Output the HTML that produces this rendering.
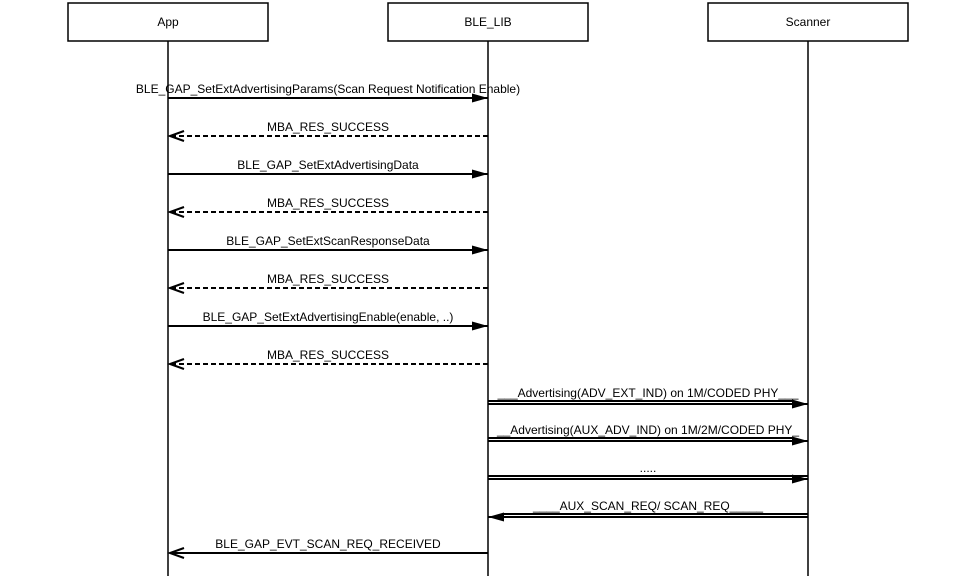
<!DOCTYPE html>
<html><head><meta charset="utf-8"><style>body{margin:0;background:#fff}svg{display:block}</style></head><body>
<svg width="976" height="576" xmlns="http://www.w3.org/2000/svg" font-family="Liberation Sans, sans-serif" font-size="12">
<defs>
<marker id="f" markerWidth="18" markerHeight="12" refX="16" refY="6" orient="auto" markerUnits="userSpaceOnUse"><path d="M0,1.5 L16,6 L0,10.5 Z" fill="#000"/></marker>
</defs>
<g fill="#fff" stroke="#000" stroke-width="1.5">
<rect x="68" y="3" width="200" height="38"/><rect x="388" y="3" width="200" height="38"/><rect x="708" y="3" width="200" height="38"/>
</g>
<g text-anchor="middle" font-size="12">
<text x="168" y="26">App</text><text x="488" y="26">BLE_LIB</text><text x="808" y="26">Scanner</text>
</g>
<g stroke="#000" stroke-width="1.5">
<line x1="168" y1="41" x2="168" y2="576"/><line x1="488" y1="41" x2="488" y2="576"/><line x1="808" y1="41" x2="808" y2="576"/>
</g>
<g stroke="#000" stroke-width="2" fill="none">
<line x1="168" y1="98" x2="488" y2="98" marker-end="url(#f)"/>
<line x1="168" y1="174" x2="488" y2="174" marker-end="url(#f)"/>
<line x1="168" y1="250" x2="488" y2="250" marker-end="url(#f)"/>
<line x1="168" y1="326" x2="488" y2="326" marker-end="url(#f)"/>
<g stroke-dasharray="5,3">
<line x1="488" y1="136" x2="170" y2="136"/>
<line x1="488" y1="212" x2="170" y2="212"/>
<line x1="488" y1="288" x2="170" y2="288"/>
<line x1="488" y1="364" x2="170" y2="364"/>
</g>
<path d="M184,131 L170,136 L184,141 M184,207 L170,212 L184,217 M184,283 L170,288 L184,293 M184,359 L170,364 L184,369 M184,548 L170,553 L184,558"/>
<line x1="488" y1="553" x2="170" y2="553"/>
<line x1="488" y1="401" x2="793" y2="401"/><line x1="488" y1="404" x2="808" y2="404" marker-end="url(#f)"/>
<line x1="488" y1="438" x2="793" y2="438"/><line x1="488" y1="441" x2="808" y2="441" marker-end="url(#f)"/>
<line x1="488" y1="476" x2="808" y2="476"/><line x1="488" y1="479" x2="808" y2="479" marker-end="url(#f)"/>
<line x1="808" y1="514" x2="503" y2="514"/><line x1="808" y1="517" x2="488" y2="517" marker-end="url(#f)"/>
</g>
<g text-anchor="middle">
<text x="328" y="93">BLE_GAP_SetExtAdvertisingParams(Scan Request Notification Enable)</text>
<text x="328" y="131">MBA_RES_SUCCESS</text>
<text x="328" y="169">BLE_GAP_SetExtAdvertisingData</text>
<text x="328" y="207">MBA_RES_SUCCESS</text>
<text x="328" y="245">BLE_GAP_SetExtScanResponseData</text>
<text x="328" y="283">MBA_RES_SUCCESS</text>
<text x="328" y="321">BLE_GAP_SetExtAdvertisingEnable(enable, ..)</text>
<text x="328" y="359">MBA_RES_SUCCESS</text>
<text x="648" y="397">___Advertising(ADV_EXT_IND) on 1M/CODED PHY___</text>
<text x="648" y="434">__Advertising(AUX_ADV_IND) on 1M/2M/CODED PHY_</text>
<text x="648" y="472">.....</text>
<text x="648" y="510">____AUX_SCAN_REQ/ SCAN_REQ_____</text>
<text x="328" y="548">BLE_GAP_EVT_SCAN_REQ_RECEIVED</text>
</g>
</svg>
</body></html>
